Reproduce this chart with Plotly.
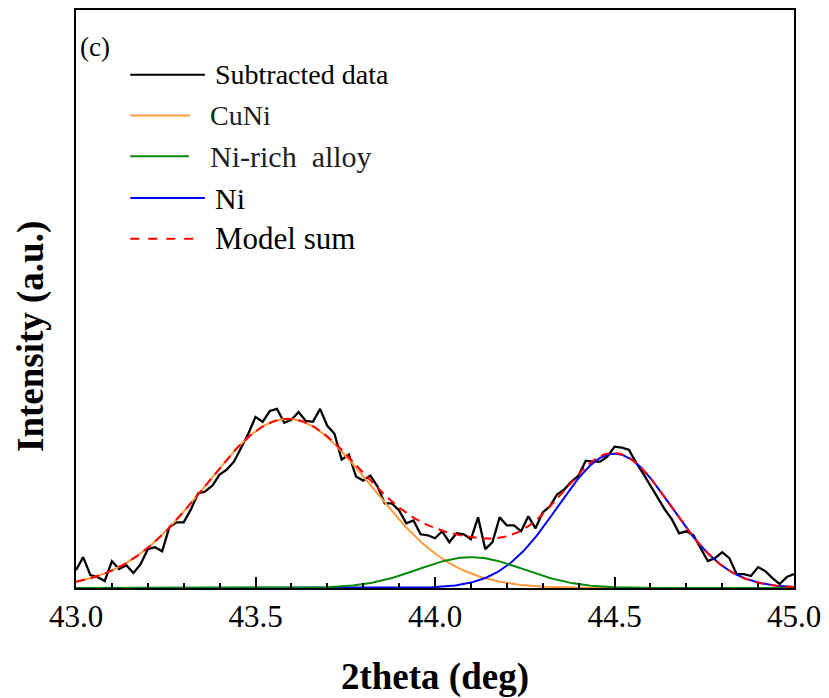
import plotly.graph_objects as go
import numpy as np

# ---- data ----
two_theta = [round(43.0 + 0.02 * i, 2) for i in range(101)]
subtracted = [18, 31, 13, 11, 7, 27, 19, 23, 15, 24,
              39, 41, 37, 61, 66, 66, 79, 95, 97, 103,
              114, 119, 127, 141, 155, 172, 167, 178, 180, 166,
              169, 177, 168, 167, 180, 163, 155, 129, 134, 112,
              108, 113, 102, 85, 85, 78, 65, 68, 54, 53,
              50, 57, 46, 55, 54, 49, 71, 39, 46, 71,
              63, 63, 57, 72, 60, 76, 82, 94, 99, 107,
              113, 128, 127, 127, 132, 142, 141, 139, 126, 115,
              103, 92, 79, 69, 55, 57, 53, 40, 27, 30,
              36, 30, 14, 14, 12, 21, 17, 10, 4, 11, 14]

# fitted peak components: name, centre (deg), height (a.u.), sigma (deg)
peak_names = ["CuNi", "Ni-rich alloy", "Ni"]
peak_centres = [43.59, 44.10, 44.50]
peak_heights = [170, 31, 135]
peak_sigmas = [0.23, 0.147, 0.158]
peak_colors = ["#FF9A3C", "#0A8A0A", "#0000FF"]

x_fit = np.linspace(43.0, 45.0, 401)
components = [h * np.exp(-(x_fit - c) ** 2 / (2 * s ** 2))
              for c, h, s in zip(peak_centres, peak_heights, peak_sigmas)]
model_sum = components[0] + components[1] + components[2]

x_ticks = [43.0, 43.5, 44.0, 44.5, 45.0]

SERIF = "Times New Roman, Liberation Serif, serif"

# ---- figure ----
fig = go.Figure()
fig.add_trace(go.Scatter(x=two_theta, y=subtracted, mode="lines",
                         line=dict(color="black", width=2.3),
                         name="Subtracted data", showlegend=False))
order = [0, 2, 1]
for k in order:
    fig.add_trace(go.Scatter(x=x_fit, y=components[k], mode="lines",
                             line=dict(color=peak_colors[k], width=2),
                             name=peak_names[k], showlegend=False))
fig.add_trace(go.Scatter(x=x_fit, y=model_sum, mode="lines",
                         line=dict(color="#FF0000", width=2, dash="9px,6px"),
                         name="Model sum", showlegend=False))

# manual legend (long sample lines as in the reference)
L, R, T, B = 75.5, 797, 8, 589
W, H = 829, 698

legend_items = [
    ("Subtracted data", "black", "solid", 130, 205, 73, 213, 28, "black"),
    ("CuNi", "#FF9A3C", "solid", 130, 190, 114, 208, 28, "#222222"),
    ("Ni-rich&nbsp; alloy", "#0A8A0A", "solid", 130, 189, 155, 208, 30, "#222222"),
    ("Ni", "#0000FF", "solid", 130, 205, 197, 213, 30, "black"),
    ("Model sum", "#FF0000", "dash", 130, 200, 238, 213, 31, "black"),
]
shapes = []
annotations = []
for name, col, dash, x0, x1, yc, tx, fs, tc in legend_items:
    shapes.append(dict(type="line", xref="paper", yref="paper",
                       x0=(x0 - L) / (R - L), x1=(x1 - L) / (R - L),
                       y0=(B - yc) / (B - T), y1=(B - yc) / (B - T),
                       line=dict(color=col, width=2, dash=dash)))
    annotations.append(dict(text=name, xref="paper", yref="paper",
                            x=(tx - L) / (R - L), y=(B - yc) / (B - T),
                            xanchor="left", yanchor="middle", showarrow=False,
                            font=dict(family=SERIF, size=fs, color=tc)))
annotations.append(dict(text="(c)", xref="paper", yref="paper",
                        x=(78 - L) / (R - L), y=(B - 45) / (B - T),
                        xanchor="left", yanchor="middle", showarrow=False,
                        font=dict(family=SERIF, size=27, color="black")))
# y-axis title (placed as in the reference, slightly below plot centre)
annotations.append(dict(text="<b>Intensity (a.u.)</b>", xref="paper", yref="paper",
                        x=(31 - L) / (R - L), y=(B - 336) / (B - T),
                        xanchor="center", yanchor="middle", showarrow=False,
                        textangle=-90,
                        font=dict(family=SERIF, size=37, color="black")))

fig.update_layout(
    width=W, height=H,
    margin=dict(l=L, r=W - R, t=T, b=H - B, pad=0),
    paper_bgcolor="white", plot_bgcolor="white",
    font=dict(family=SERIF, color="black"),
    shapes=shapes, annotations=annotations,
    xaxis=dict(range=[43.0, 45.0], tickvals=x_ticks,
               ticktext=[f"{v:.1f}" for v in x_ticks],
               ticks="inside", ticklen=11, tickwidth=2, tickcolor="black",
               minor=dict(dtick=0.1, ticks="inside", ticklen=5, tickwidth=2, tickcolor="black"),
               showline=True, linewidth=2, linecolor="black", mirror=True,
               showgrid=False, zeroline=False,
               tickfont=dict(family=SERIF, size=31),
               title=dict(text="<b>2theta (deg)</b>", standoff=30,
                          font=dict(family=SERIF, size=37))),
    xaxis2=dict(range=[43.0, 45.0], overlaying="x", side="top",
                dtick=0.1, tick0=43.0, ticks="inside", ticklen=3, tickwidth=1,
                tickcolor="black", showticklabels=False, showgrid=False,
                zeroline=False, showline=False),
    yaxis=dict(range=[0, B - T], showticklabels=False, ticks="",
               showline=True, linewidth=2, linecolor="black", mirror=True,
               showgrid=False, zeroline=False),
)

fig.write_html("out.html")
